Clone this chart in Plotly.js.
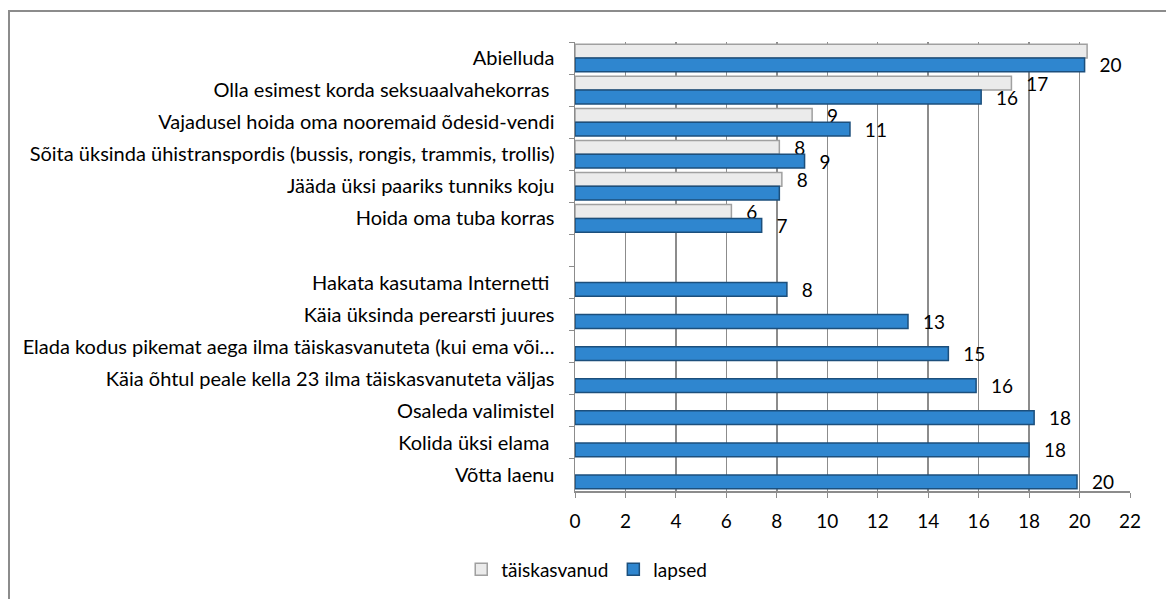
<!DOCTYPE html>
<html>
<head>
<meta charset="utf-8">
<script src="https://cdn.plot.ly/plotly-3.0.1.min.js"></script>
<style>
html,body{margin:0;padding:0;background:#fff;}
#frame{position:absolute;left:8px;top:10px;width:1200px;height:640px;border-left:2px solid #8c8c8c;border-top:2px solid #8c8c8c;}
#chart{position:absolute;left:0;top:0;width:1166px;height:599px;}
</style>
</head>
<body>
<div id="frame"></div>
<div id="chart"></div>
<script>
const categories = [
  "Abielluda",
  "Olla esimest korda seksuaalvahekorras ",
  "Vajadusel hoida oma nooremaid õdesid-vendi",
  "Sõita üksinda ühistranspordis (bussis, rongis, trammis, trollis)",
  "Jääda üksi paariks tunniks koju",
  "Hoida oma tuba korras",
  " ",
  "Hakata kasutama Internetti ",
  "Käia üksinda perearsti juures",
  "Elada kodus pikemat aega ilma täiskasvanuteta (kui ema või…",
  "Käia õhtul peale kella 23 ilma täiskasvanuteta väljas",
  "Osaleda valimistel",
  "Kolida üksi elama ",
  "Võtta laenu"
];
const taiskasvanud = [20.3, 17.3, 9.4, 8.1, 8.2, 6.2, null, null, null, null, null, null, null, null];
const lapsed = [20.2, 16.1, 10.9, 9.1, 8.1, 7.4, null, 8.4, 13.2, 14.8, 15.9, 18.2, 18.0, 19.9];
const xTicks = [0, 2, 4, 6, 8, 10, 12, 14, 16, 18, 20, 22];

const FONT = "Lato, 'Open Sans', sans-serif";
const LABEL = "\u2002\u2009%{x:.0f}";
// where the two labels of a pair coincide, the reference shows the value only once
const taisTemplate = taiskasvanud.map((v, i) => i === 0 ? "" : LABEL);
const lapsTemplate = lapsed.map((v, i) => i === 4 ? "" : LABEL);

const traces = [
  {
    type: "bar", orientation: "h", name: "täiskasvanud",
    y: categories, x: taiskasvanud,
    marker: {color: "#ebebeb", line: {color: "#a0a0a0", width: 1.5}},
    texttemplate: taisTemplate, textposition: "outside", cliponaxis: false,
    constraintext: "none",
    textfont: {family: FONT, size: 19, color: "#000"}
  },
  {
    type: "bar", orientation: "h", name: "lapsed",
    y: categories, x: lapsed,
    marker: {color: "#2f86cf", line: {color: "#1c4f7c", width: 1.5}},
    texttemplate: lapsTemplate, textposition: "outside", cliponaxis: false,
    constraintext: "none",
    textfont: {family: FONT, size: 19, color: "#000"}
  }
];

const layout = {
  width: 1166, height: 599,
  paper_bgcolor: "rgba(0,0,0,0)", plot_bgcolor: "rgba(0,0,0,0)",
  margin: {l: 575, r: 36, t: 42, b: 107},
  font: {family: FONT, size: 18, color: "#000"},
  barmode: "group", bargap: 0.14, bargroupgap: 0,
  showlegend: true,
  legend: {orientation: "h", x: -0.205, xanchor: "left", y: -0.172, yanchor: "middle",
           font: {family: FONT, size: 19}, itemwidth: 30, traceorder: "normal"},
  xaxis: {
    range: [0, 22], tickvals: xTicks, ticktext: xTicks.map(String),
    showgrid: true, gridcolor: "#8c8c8c", gridwidth: 1.5,
    zeroline: false, showline: true, linecolor: "#8c8c8c", linewidth: 1.5,
    ticks: "outside", ticklen: 5, tickcolor: "#8c8c8c",
    ticklabelstandoff: 8, tickfont: {family: FONT, size: 19}
  },
  yaxis: {
    autorange: "reversed", type: "category",
    showgrid: false, zeroline: false, showline: true, linecolor: "#8c8c8c", linewidth: 1.5,
    ticks: "outside", tickson: "boundaries", ticklen: 5, tickcolor: "#8c8c8c",
    ticklabelstandoff: 15, tickfont: {family: FONT, size: 20}
  }
};

Plotly.newPlot("chart", traces, layout, {displayModeBar: false, staticPlot: true});
</script>
</body>
</html>
